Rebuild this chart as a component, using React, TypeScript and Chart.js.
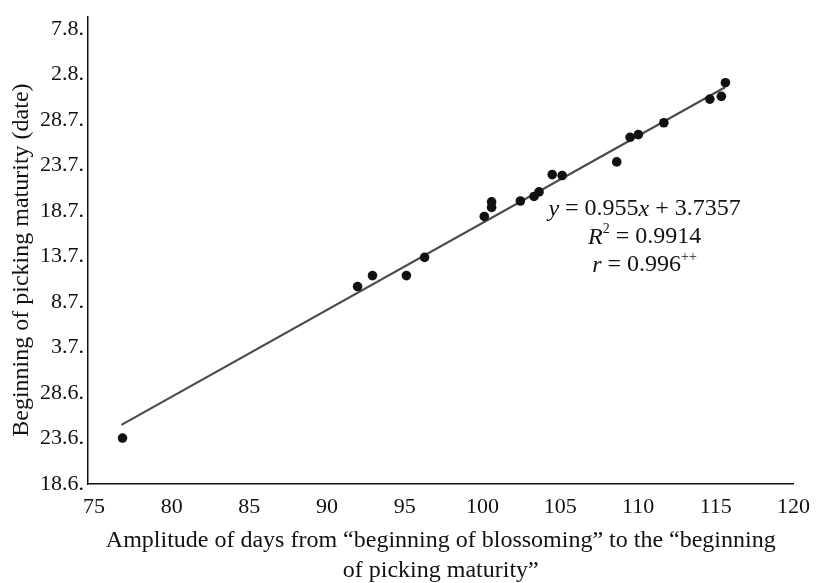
import React, { useEffect, useRef } from 'react';
import { Chart, registerables } from 'chart.js';

Chart.register(...registerables);

// Amplitude of days (x) and beginning of picking maturity (days after 18 June)
const amplitudeDays = [
  76.84, 91.96, 92.92, 95.1, 96.27, 100.11, 100.58, 100.58, 102.43, 103.31,
  103.63, 104.48, 105.12, 108.63, 109.49, 110.02, 111.66, 114.62, 115.36, 115.62,
];
const maturityDay = [
  5.05, 21.7, 22.9, 22.9, 24.9, 29.4, 30.4, 31.0, 31.1, 31.6,
  32.1, 34.0, 33.9, 35.4, 38.1, 38.4, 39.7, 42.3, 42.6, 44.1,
];

// Fitted trend line end points
const trendX = [76.77, 115.6];
const trendY = [6.5, 43.6];

const xTickValues = [75, 80, 85, 90, 95, 100, 105, 110, 115, 120];
const yTickValues = [0, 5, 10, 15, 20, 25, 30, 35, 40, 45, 50];
const yTickLabels = ['18.6.', '23.6.', '28.6.', '3.7.', '8.7.', '13.7.', '18.7.', '23.7.', '28.7.', '2.8.', '7.8.'];

const xTitle = [
  'Amplitude of days from \u201cbeginning of blossoming\u201d to the \u201cbeginning',
  'of picking maturity\u201d',
];
const yTitle = 'Beginning of picking maturity (date)';

type Run = { t: string; italic?: boolean; sup?: boolean };
const equationLines: Run[][] = [
  [{ t: 'y', italic: true }, { t: ' = 0.955' }, { t: 'x', italic: true }, { t: ' + 3.7357' }],
  [{ t: 'R', italic: true }, { t: '2', sup: true }, { t: ' = 0.9914' }],
  [{ t: 'r', italic: true }, { t: ' = 0.996' }, { t: '++', sup: true }],
];
const equationAnchor = { x: 110.42, y: 30.2 };

const FONT = '"Liberation Serif", "Times New Roman", serif';
const TEXT = '#111111';

const equationPlugin = {
  id: 'equationText',
  afterDatasetsDraw(chart: any) {
    const { ctx, scales } = chart;
    const cx = scales.x.getPixelForValue(equationAnchor.x);
    const cy = scales.y.getPixelForValue(equationAnchor.y);
    const fontFor = (r: Run) =>
      `${r.italic ? 'italic ' : ''}${r.sup ? 14 : 24}px ${FONT}`;
    ctx.save();
    ctx.fillStyle = TEXT;
    ctx.textBaseline = 'middle';
    ctx.textAlign = 'left';
    equationLines.forEach((runs, li) => {
      let total = 0;
      runs.forEach((r) => {
        ctx.font = fontFor(r);
        total += ctx.measureText(r.t).width;
      });
      let xx = cx - total / 2;
      const yy = cy + li * 28;
      runs.forEach((r) => {
        ctx.font = fontFor(r);
        ctx.fillText(r.t, xx, yy + (r.sup ? -8 : 0));
        xx += ctx.measureText(r.t).width;
      });
    });
    ctx.restore();
  },
};

// Y axis title, drawn rotated beside the tick labels
const yTitlePlugin = {
  id: 'yTitleText',
  afterDraw(chart: any) {
    const { ctx, chartArea } = chart;
    ctx.save();
    ctx.fillStyle = TEXT;
    ctx.font = `24px ${FONT}`;
    ctx.textAlign = 'center';
    ctx.textBaseline = 'middle';
    ctx.translate(22, (chartArea.top + chartArea.bottom) / 2 + 9.5);
    ctx.rotate(-Math.PI / 2);
    ctx.fillText(yTitle, 0, 0);
    ctx.restore();
  },
};

export default function App() {
  const canvasRef = useRef<HTMLCanvasElement | null>(null);

  useEffect(() => {
    const canvas = canvasRef.current;
    if (!canvas) return;
    const chart = new Chart(canvas, {
      type: 'scatter',
      data: {
        datasets: [
          {
            type: 'line',
            label: 'Trend',
            data: trendX.map((x, i) => ({ x, y: trendY[i] })),
            borderColor: '#4a4a4a',
            borderWidth: 2.2,
            pointRadius: 0,
            fill: false,
            order: 2,
          } as any,
          {
            label: 'Observations',
            data: amplitudeDays.map((x, i) => ({ x, y: maturityDay[i] })),
            backgroundColor: '#111111',
            borderColor: '#111111',
            pointRadius: 4.8,
            pointHoverRadius: 4.8,
            borderWidth: 0,
            order: 1,
          },
        ],
      },
      options: {
        responsive: false,
        maintainAspectRatio: false,
        animation: false,
        layout: { padding: { top: 10, right: 21, left: 0, bottom: 0 } },
        plugins: {
          legend: { display: false },
          tooltip: { enabled: false },
        },
        scales: {
          x: {
            type: 'linear',
            min: 74.62,
            max: 120,
            grid: { display: false, drawTicks: false },
            border: { display: true, color: '#111', width: 1.5 },
            afterBuildTicks: (scale: any) => {
              scale.ticks = xTickValues.map((v) => ({ value: v }));
            },
            afterFit: (scale: any) => {
              scale.height = 99;
            },
            ticks: {
              padding: 10,
              color: TEXT,
              font: { family: FONT, size: 22 },
              maxRotation: 0,
              autoSkip: false,
              callback: (v: any) => String(v),
            },
            title: {
              display: true,
              text: xTitle,
              color: TEXT,
              font: { family: FONT, size: 24, lineHeight: 30 / 24 },
              padding: { top: 0, bottom: -3 },
            },
          },
          y: {
            type: 'linear',
            min: 0,
            max: 51.3,
            grid: { display: false, drawTicks: false },
            border: { display: true, color: '#111', width: 1.5 },
            afterBuildTicks: (scale: any) => {
              scale.ticks = yTickValues.map((v) => ({ value: v }));
            },
            afterFit: (scale: any) => {
              scale.width = 88;
            },
            ticks: {
              padding: 4,
              color: TEXT,
              font: { family: FONT, size: 22 },
              autoSkip: false,
              callback: (v: any) => {
                const idx = yTickValues.indexOf(Number(v));
                return idx >= 0 ? yTickLabels[idx] : '';
              },
            },
            title: { display: false },
          },
        },
      },
      plugins: [equationPlugin, yTitlePlugin],
    });
    return () => chart.destroy();
  }, []);

  return (
    <div style={{ position: 'absolute', left: 0, top: 0, width: 820, height: 583, background: '#fff' }}>
      <canvas ref={canvasRef} width={820} height={583} style={{ display: 'block' }} />
    </div>
  );
}
